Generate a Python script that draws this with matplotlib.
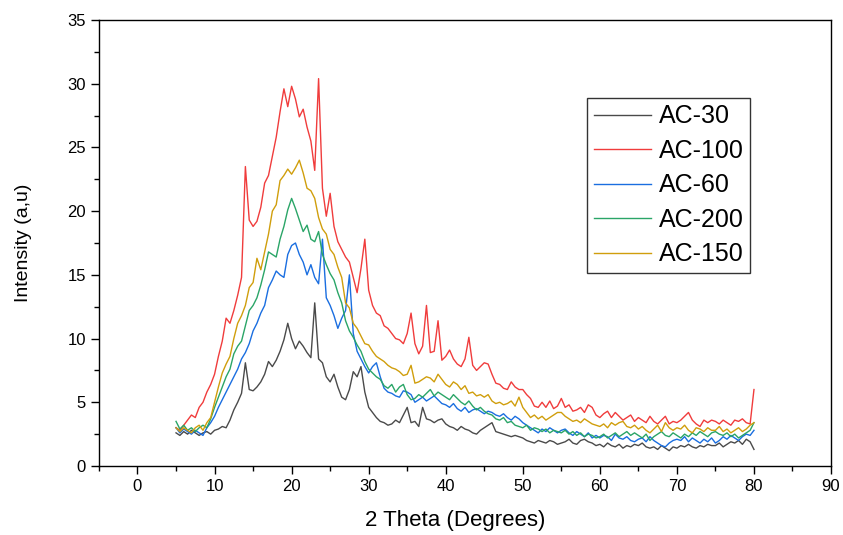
import numpy as np
import matplotlib
matplotlib.use('Agg')
import matplotlib.pyplot as plt
from matplotlib.ticker import MultipleLocator

plt.rcParams['font.family'] = ['Liberation Sans', 'DejaVu Sans']

# 2 theta grid, 0.5 degree steps from 5 to 80
two_theta = np.arange(5.0, 80.01, 0.5)

ac30 = [2.6, 2.4, 2.7, 2.5, 2.8, 2.6, 2.4, 2.6, 2.7, 2.5,
        2.8, 2.9, 3.1, 3.0, 3.6, 4.4, 5.0, 5.7, 8.1, 6.0,
        5.9, 6.2, 6.6, 7.2, 8.2, 7.8, 8.3, 9.0, 9.9, 11.2,
        10.0, 9.2, 9.8, 9.4, 8.9, 8.5, 12.8, 8.4, 8.1, 7.0,
        6.6, 7.2, 6.2, 5.4, 5.2, 6.0, 7.4, 7.0, 7.8, 5.8,
        4.6, 4.2, 3.8, 3.5, 3.4, 3.2, 3.3, 3.6, 3.4, 4.0,
        4.6, 3.4, 3.5, 3.1, 4.6, 3.7, 3.6, 3.4, 3.6, 3.7,
        3.3, 3.1, 3.0, 2.8, 3.1, 2.9, 2.8, 2.6, 2.5, 2.8,
        3.0, 3.2, 3.4, 2.7, 2.6, 2.5, 2.4, 2.3, 2.4, 2.3,
        2.2, 2.0, 1.9, 1.8, 2.0, 1.9, 1.8, 2.0, 1.9, 1.7,
        1.8, 1.9, 2.1, 1.8, 1.7, 2.0, 2.1, 1.9, 1.8, 1.6,
        1.7, 1.5, 1.8, 1.6, 1.5, 1.7, 1.4, 1.6, 1.5, 1.7,
        1.6, 1.8, 1.5, 1.4, 1.5, 1.3, 1.6, 1.4, 1.2, 1.5,
        1.4, 1.6, 1.5, 1.7, 1.5, 1.4, 1.6, 1.5, 1.7, 1.6,
        1.6, 1.8, 1.5, 1.7, 1.9, 1.8, 2.0, 1.7, 2.1, 1.9,
        1.3]

ac100 = [3.0, 2.8, 3.2, 3.6, 4.0, 3.8, 4.6, 5.0, 5.8, 6.4,
         7.2, 8.6, 9.8, 11.6, 11.2, 12.2, 13.4, 14.8, 23.5, 19.3,
         18.8, 19.2, 20.3, 22.2, 22.8, 24.3, 25.8, 27.8, 29.6, 28.2,
         29.8, 28.8, 27.4, 28.0, 26.6, 25.5, 23.2, 30.4, 21.8, 19.6,
         21.4, 18.8, 17.6, 17.0, 16.4, 16.0, 14.8, 13.6, 15.5, 17.8,
         13.8, 12.6, 12.0, 11.8, 11.0, 10.8, 10.4, 10.0, 9.9, 9.6,
         10.4, 12.0, 9.6, 8.8, 9.4, 12.6, 8.9, 9.0, 11.4, 8.3,
         8.6, 9.1, 8.4, 8.0, 7.8, 8.4, 10.1, 7.9, 7.5, 7.8,
         8.1, 8.0, 7.2, 6.5, 6.4, 6.1, 6.0, 6.6, 6.2, 6.0,
         6.0, 5.6, 5.3, 4.7, 4.6, 5.0, 4.6, 5.1, 4.5, 4.7,
         5.3, 4.6, 4.8, 4.3, 4.4, 4.6, 4.2, 4.8, 4.6, 4.0,
         3.8, 4.1, 4.3, 3.8, 4.2, 3.9, 3.6, 3.8, 4.0, 3.5,
         3.8, 3.6, 3.4, 3.9, 3.5, 3.3, 3.6, 3.9, 3.3, 3.5,
         3.4, 3.6, 3.9, 4.2, 3.6, 3.3, 3.1, 3.6, 3.4, 3.6,
         3.5, 3.3, 3.6, 3.4, 3.2, 3.6, 3.5, 3.7, 3.4, 3.3,
         6.0]

ac60 = [3.0, 2.6, 2.9, 2.7, 2.5, 2.8, 2.6, 2.4, 3.0, 3.4,
        3.9, 4.6, 5.2, 5.8, 6.4, 7.0, 7.6, 8.4, 8.9, 9.6,
        10.6, 11.2, 12.0, 12.6, 14.0, 14.6, 15.3, 15.0, 14.8, 16.6,
        17.3, 17.5, 16.6, 16.0, 15.0, 15.8, 14.8, 14.3, 17.8, 13.2,
        12.6, 11.8, 10.8, 11.6, 12.2, 15.0, 10.4, 9.0, 8.4, 7.8,
        7.3, 7.8, 8.1, 7.0, 6.1, 5.8, 5.7, 5.5, 5.4, 5.9,
        5.8, 5.6, 5.0, 5.2, 5.4, 5.1, 5.3, 5.5, 5.2, 4.9,
        4.8, 4.6, 4.9, 4.5, 4.3, 4.6, 4.2, 4.4, 4.5, 4.3,
        4.1, 4.3, 4.2, 4.0, 3.9, 4.1, 3.8, 3.6, 3.9, 3.7,
        3.4, 3.2, 3.0, 2.8, 2.6, 2.9, 2.7, 3.0, 2.8, 2.6,
        2.8, 2.9, 2.6, 2.4, 2.7, 2.5, 2.3, 2.6, 2.2, 2.4,
        2.2, 2.4, 2.3, 2.0, 2.5, 2.2, 2.1, 2.3, 2.0, 1.9,
        2.1, 2.2, 1.9, 2.3, 2.0, 1.8, 1.6, 1.5, 1.8, 2.0,
        2.1, 2.0, 2.3, 1.9, 2.2, 2.0, 1.8, 2.1, 1.9, 2.2,
        1.8, 2.0, 2.3, 2.1, 2.4, 2.2, 2.0, 2.3, 2.5, 2.4,
        2.8]

ac200 = [3.5, 2.9, 3.2, 2.8, 3.0, 2.7, 3.0, 3.2, 3.0, 3.7,
         4.6, 5.4, 6.2, 7.0, 7.6, 8.8, 9.4, 9.8, 11.0, 12.2,
         12.6, 13.2, 14.2, 15.4, 16.8, 16.6, 16.4, 17.8, 18.8, 20.1,
         21.0, 20.2, 19.3, 18.4, 18.9, 17.8, 17.6, 18.4, 16.6, 15.8,
         15.1, 14.6, 13.6, 12.8, 11.4, 10.6, 10.1, 9.5, 9.0, 8.2,
         7.6, 7.3, 7.0, 6.8, 6.3, 6.1, 6.4, 5.8, 6.2, 6.4,
         5.6, 5.2, 5.3, 5.6, 5.4, 5.7, 6.0, 5.5, 5.8, 5.6,
         5.4, 5.2, 5.6, 5.3, 5.0, 4.8, 5.1, 4.7, 4.4, 4.6,
         4.3, 4.1, 4.0, 3.7, 3.6, 3.8, 3.4, 3.5, 3.2, 3.1,
         3.0, 3.2, 2.8, 3.0, 2.9, 2.7, 2.9, 2.6, 2.8, 2.7,
         2.6, 2.8, 2.5, 2.7, 2.4, 2.6, 2.3, 2.5, 2.4, 2.2,
         2.3, 2.5, 2.2, 2.4, 2.6, 2.3, 2.5, 2.7, 2.4, 2.6,
         2.4, 2.2, 2.5, 2.0, 2.3, 2.5, 2.7, 2.4, 2.3, 2.6,
         2.4, 2.2, 2.5, 2.3, 2.6, 2.4, 2.7, 2.5, 2.3, 2.6,
         2.7, 2.5, 2.4, 2.6, 2.3, 2.5, 2.2, 2.4, 2.6, 2.8,
         3.4]

ac150 = [3.0, 2.7, 3.0, 2.8, 2.6, 3.0, 3.2, 2.8, 3.4, 3.8,
         5.0, 6.2, 7.3, 8.0, 8.6, 10.0, 11.2, 11.8, 12.6, 14.0,
         14.4, 16.3, 15.4, 16.8, 18.2, 20.0, 20.5, 22.4, 22.8, 23.3,
         22.9, 23.4, 24.0, 23.0, 21.8, 21.6, 21.0, 19.5, 18.6, 18.2,
         17.0, 16.6, 15.6, 14.8, 12.8, 12.4, 11.2, 10.8, 10.2, 9.6,
         9.5, 9.0, 8.6, 8.4, 8.2, 7.9, 7.7, 7.6, 7.4, 7.1,
         7.2, 7.9, 6.5, 6.6, 6.8, 7.0, 6.9, 6.6, 7.2, 6.8,
         6.4, 6.2, 6.6, 6.4, 6.0, 6.3, 5.7, 5.8, 5.5, 5.6,
         5.4, 5.6, 5.1, 4.9, 5.0, 4.8, 4.9, 5.1, 4.7, 5.4,
         4.6, 4.2, 3.8, 4.0, 3.7, 3.9, 3.6, 3.8, 4.0, 4.2,
         4.2, 3.9, 3.7, 3.5, 3.6, 3.4, 3.7, 3.5, 3.3, 3.2,
         3.1, 3.3, 3.0, 3.4, 3.2, 3.4, 3.5, 3.1, 3.0, 3.2,
         2.9, 3.1, 2.8, 2.6, 2.9, 3.2, 2.7, 3.4, 3.0, 2.8,
         3.0, 2.9, 3.2, 2.8, 2.6, 3.0, 2.9, 2.7, 3.0, 2.8,
         2.8, 3.1, 2.7, 2.9, 2.6, 2.8, 3.0, 2.7, 2.9, 3.2,
         3.4]

series = [('AC-30', ac30, '#4a4a4a'),
          ('AC-100', ac100, '#f03c3c'),
          ('AC-60', ac60, '#1a6ee0'),
          ('AC-200', ac200, '#2aa567'),
          ('AC-150', ac150, '#d09e0c')]

fig = plt.figure(figsize=(8.43, 5.35), dpi=100)
ax = fig.add_axes([0.1174, 0.129, 0.8684, 0.8336])

for name, vals, col in series:
    ax.plot(two_theta, vals, color=col, lw=1.0, label=name)

ax.set_xlim(-5, 90)
ax.set_ylim(0, 35)
ax.xaxis.set_major_locator(MultipleLocator(10))
ax.xaxis.set_minor_locator(MultipleLocator(5))
ax.yaxis.set_major_locator(MultipleLocator(5))
ax.yaxis.set_minor_locator(MultipleLocator(2.5))
ax.tick_params(which='major', direction='out', length=6, width=1, labelsize=12)
ax.tick_params(which='minor', direction='out', length=3.5, width=1)
for s in ax.spines.values():
    s.set_linewidth(1)

ax.set_xlabel('2 Theta (Degrees)', fontsize=16)
ax.xaxis.set_label_coords(0.486, -0.098)
ax.set_ylabel('Intensity (a,u)', fontsize=14, labelpad=25)

leg = ax.legend(loc='upper left', bbox_to_anchor=(0.667, 0.825), fontsize=18,
                frameon=True, fancybox=False, edgecolor='black', borderaxespad=0,
                handlelength=2.3, handletextpad=0.3, labelspacing=0.42,
                borderpad=0.25)
leg.get_frame().set_linewidth(1)

fig.savefig('out.png', dpi=100)
